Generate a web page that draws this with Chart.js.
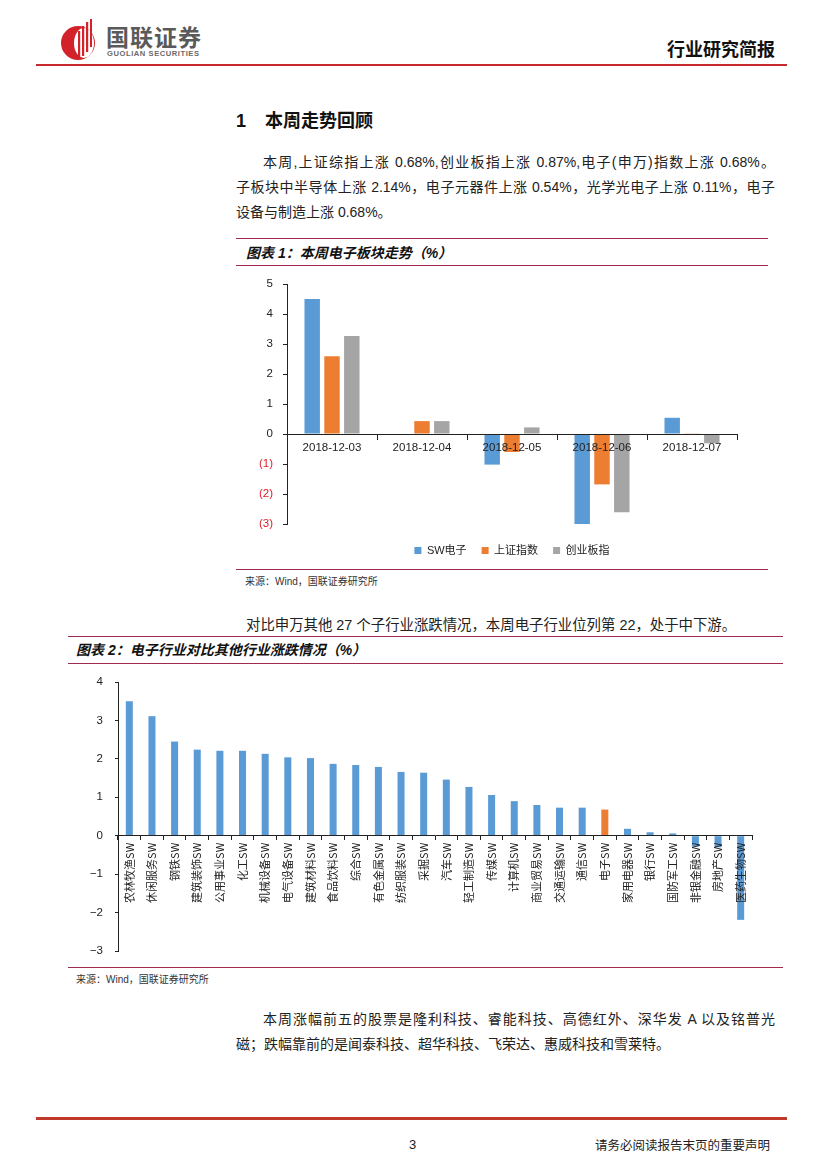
<!DOCTYPE html>
<html><head><meta charset="utf-8">
<script src="https://cdn.jsdelivr.net/npm/chart.js@4.4.0/dist/chart.umd.min.js"></script>
<style>
body{margin:0;background:#fff;}
#page{position:relative;width:827px;height:1169px;overflow:hidden;font-family:"Liberation Sans","Noto Sans CJK SC",sans-serif;color:#222;background:#fff;}
.abs{position:absolute;white-space:nowrap;}
.hl{position:absolute;height:0;}
.p{position:absolute;font-size:14px;line-height:25px;white-space:nowrap;}
.j{text-align:justify;text-align-last:justify;}
.cap{position:absolute;font-size:14px;font-weight:bold;font-style:italic;line-height:20px;white-space:nowrap;color:#111;}
.src{position:absolute;font-size:10px;line-height:14px;color:#333;white-space:nowrap;}
</style></head>
<body>
<div id="page">
  <!-- header -->
  <svg class="abs" style="left:58px;top:17px" width="42" height="46" viewBox="0 0 42 46">
    <circle cx="20" cy="26" r="17" fill="#d2232a"/>
    <ellipse cx="26" cy="26" rx="10" ry="15" fill="#fff"/>
    <rect x="20" y="14" width="2.2" height="28" fill="#d2232a"/>
    <rect x="24" y="9" width="2.2" height="30" fill="#d2232a"/>
    <rect x="28" y="5" width="2.2" height="30" fill="#d2232a"/>
    <rect x="32" y="2" width="2" height="28" fill="#d2232a"/>
  </svg>
  <div class="abs" style="left:106px;top:24px;font-size:23px;line-height:28px;font-weight:bold;color:#5a5a5a;letter-spacing:1px;">国联证券</div>
  <div class="abs" style="left:107px;top:49px;font-size:7.6px;line-height:10px;font-weight:bold;color:#6a6a6a;letter-spacing:0.55px;">GUOLIAN SECURITIES</div>
  <div class="abs" style="right:52px;top:38px;font-size:18px;line-height:24px;font-weight:bold;color:#111;">行业研究简报</div>
  <div class="hl" style="left:36px;width:751px;top:64px;border-top:2px solid #c8282e;"></div>

  <!-- heading -->
  <div class="abs" style="left:236px;top:109px;font-size:18px;line-height:24px;font-weight:bold;color:#111;">1</div>
  <div class="abs" style="left:265px;top:109px;font-size:18px;line-height:24px;font-weight:bold;color:#111;">本周走势回顾</div>

  <div class="p j" style="left:263px;top:150px;width:512px;">本周,上证综指上涨 0.68%,创业板指上涨 0.87%,电子(申万)指数上涨 0.68%。</div>
  <div class="p j" style="left:236px;top:175px;width:539px;">子板块中半导体上涨 2.14%，电子元器件上涨 0.54%，光学光电子上涨 0.11%，电子</div>
  <div class="p" style="left:236px;top:200px;">设备与制造上涨 0.68%。</div>

  <!-- figure 1 -->
  <div class="hl" style="left:236px;width:532px;top:238px;border-top:1.5px solid #9e2b4b;"></div>
  <div class="cap" style="left:246px;top:243px;">图表 1：本周电子板块走势（%）</div>
  <div class="hl" style="left:236px;width:532px;top:265px;border-top:1.5px solid #9e2b4b;"></div>
  <div class="abs" style="left:236px;top:272px;width:532px;height:294px;">
    <canvas id="c1" width="532" height="294" style="width:532px;height:294px;"></canvas>
  </div>
  <div class="hl" style="left:236px;width:532px;top:569px;border-top:1.5px solid #9e2b4b;"></div>
  <div class="src" style="left:245px;top:575px;">来源：Wind，国联证券研究所</div>

  <div class="p" style="left:246px;top:613px;font-size:14.4px;">对比申万其他 27 个子行业涨跌情况，本周电子行业位列第 22，处于中下游。</div>

  <!-- figure 2 -->
  <div class="hl" style="left:68px;width:715px;top:636px;border-top:1.5px solid #9e2b4b;"></div>
  <div class="cap" style="left:76px;top:640px;">图表 2：电子行业对比其他行业涨跌情况（%）</div>
  <div class="hl" style="left:68px;width:715px;top:663px;border-top:1.5px solid #9e2b4b;"></div>
  <div class="abs" style="left:68px;top:668px;width:715px;height:298px;">
    <canvas id="c2" width="715" height="298" style="width:715px;height:298px;"></canvas>
  </div>
  <div class="hl" style="left:68px;width:715px;top:967px;border-top:1.5px solid #9e2b4b;"></div>
  <div class="src" style="left:76px;top:973px;">来源：Wind，国联证券研究所</div>

  <div class="p j" style="left:263px;top:1007px;width:512px;">本周涨幅前五的股票是隆利科技、睿能科技、高德红外、深华发 A 以及铭普光</div>
  <div class="p" style="left:236px;top:1032px;">磁；跌幅靠前的是闻泰科技、超华科技、飞荣达、惠威科技和雪莱特。</div>

  <!-- footer -->
  <div class="hl" style="left:36px;width:751px;top:1117px;border-top:3px solid #c0392b;"></div>
  <div class="abs" style="left:409px;top:1136px;font-size:13px;line-height:18px;color:#222;">3</div>
  <div class="abs" style="right:57px;top:1137px;font-size:12.5px;line-height:18px;color:#222;">请务必阅读报告末页的重要声明</div>
</div>

<script>
// ---------- Figure 1 data ----------
const dates = ['2018-12-03','2018-12-04','2018-12-05','2018-12-06','2018-12-07'];
const swElec = [4.50, -0.03, -1.02, -3.06, 0.54];
const shIndex = [2.59, 0.43, -0.60, -1.68, 0.01];
const chinext = [3.27, 0.43, 0.22, -2.61, -0.31];
const seriesNames = ['SW电子','上证指数','创业板指'];
const yTicks1 = [5,4,3,2,1,0,-1,-2,-3];

// ---------- Figure 2 data ----------
const industries = ['农林牧渔SW','休闲服务SW','钢铁SW','建筑装饰SW','公用事业SW','化工SW','机械设备SW','电气设备SW','建筑材料SW','食品饮料SW','综合SW','有色金属SW','纺织服装SW','采掘SW','汽车SW','轻工制造SW','传媒SW','计算机SW','商业贸易SW','交通运输SW','通信SW','电子SW','家用电器SW','银行SW','国防军工SW','非银金融SW','房地产SW','医药生物SW'];
const industryChange = [3.50,3.11,2.45,2.24,2.21,2.21,2.13,2.04,2.02,1.87,1.84,1.79,1.66,1.64,1.46,1.27,1.06,0.90,0.80,0.73,0.73,0.68,0.18,0.09,0.06,-0.28,-0.30,-2.19];
const highlight = '电子SW';
const yTicks2 = [4,3,2,1,0,-1,-2,-3];

const BLUE = '#5b9bd5', ORANGE = '#ed7d31', GRAY = '#a5a5a5';
Chart.defaults.font.family = '"Liberation Sans","Noto Sans CJK SC",sans-serif';
Chart.defaults.color = '#222';
Chart.defaults.animation = false;

function fixYAxis(width) {
  return s => { s.width = width; s.paddingTop = 0; s.paddingBottom = 0; };
}

new Chart(document.getElementById('c1'), {
  type: 'bar',
  data: {
    labels: dates,
    datasets: [
      {label: seriesNames[0], data: swElec, backgroundColor: BLUE},
      {label: seriesNames[1], data: shIndex, backgroundColor: ORANGE},
      {label: seriesNames[2], data: chinext, backgroundColor: GRAY}
    ]
  },
  options: {
    responsive: false,
    devicePixelRatio: 1,
    animation: false,
    layout: {padding: {left: 0, right: 31, top: 12, bottom: 0}},
    datasets: {bar: {categoryPercentage: 0.66, barPercentage: 0.78}},
    plugins: {
      legend: {
        position: 'bottom',
        fullSize: false,
        title: {display: true, text: '', padding: 0, font: {size: 6, lineHeight: 1}},
        labels: {boxWidth: 7, boxHeight: 7, padding: 15, font: {size: 11}, color: '#222'}
      },
      tooltip: {enabled: false}
    },
    scales: {
      x: {
        position: {y: 0},
        grid: {display: true, drawOnChartArea: false, drawTicks: true, tickLength: 5, offset: true, color: '#222', z: 1},
        border: {display: true, color: '#222', width: 1, z: 1},
        ticks: {maxRotation: 0, autoSkip: false, padding: 2, font: {size: 11.5}, color: '#222', z: 1}
      },
      y: {
        min: -3, max: 5,
        afterFit: fixYAxis(51),
        afterBuildTicks: s => { s.ticks = yTicks1.map(v => ({value: v})); },
        grid: {display: true, drawOnChartArea: false, drawTicks: true, tickLength: 4, color: '#222'},
        border: {display: true, color: '#222', width: 1},
        ticks: {
          padding: 10, font: {size: 11.5},
          color: ctx => (ctx.tick && ctx.tick.value < 0) ? '#e0202a' : '#222',
          callback: v => v < 0 ? '(' + (-v) + ')' : String(v)
        }
      }
    }
  }
});

new Chart(document.getElementById('c2'), {
  type: 'bar',
  data: {
    labels: industries,
    datasets: [{
      label: '涨跌幅',
      data: industryChange,
      backgroundColor: industries.map(n => n === highlight ? ORANGE : BLUE)
    }]
  },
  options: {
    responsive: false,
    devicePixelRatio: 1,
    animation: false,
    layout: {padding: {left: 0, right: 31, top: 14, bottom: 15}},
    datasets: {bar: {categoryPercentage: 1, barPercentage: 0.31}},
    plugins: {legend: {display: false}, tooltip: {enabled: false}},
    scales: {
      x: {
        position: {y: 0},
        grid: {display: true, drawOnChartArea: false, drawTicks: true, tickLength: 4, offset: true, color: '#222', z: 1},
        border: {display: true, color: '#222', width: 1, z: 1},
        ticks: {minRotation: 90, maxRotation: 90, autoSkip: false, padding: 3, z: 1, font: {size: 11, family: '"Noto Sans CJK SC","Liberation Sans",sans-serif'}, color: '#222'}
      },
      y: {
        min: -3, max: 4,
        afterFit: fixYAxis(50),
        afterBuildTicks: s => { s.ticks = yTicks2.map(v => ({value: v})); },
        grid: {display: true, drawOnChartArea: false, drawTicks: true, tickLength: 3, color: '#222'},
        border: {display: true, color: '#222', width: 1},
        ticks: {padding: 12, font: {size: 11.5}, color: '#222',
          callback: v => v < 0 ? '\u2212' + (-v) : String(v)}
      }
    }
  }
});
</script>
</body></html>
